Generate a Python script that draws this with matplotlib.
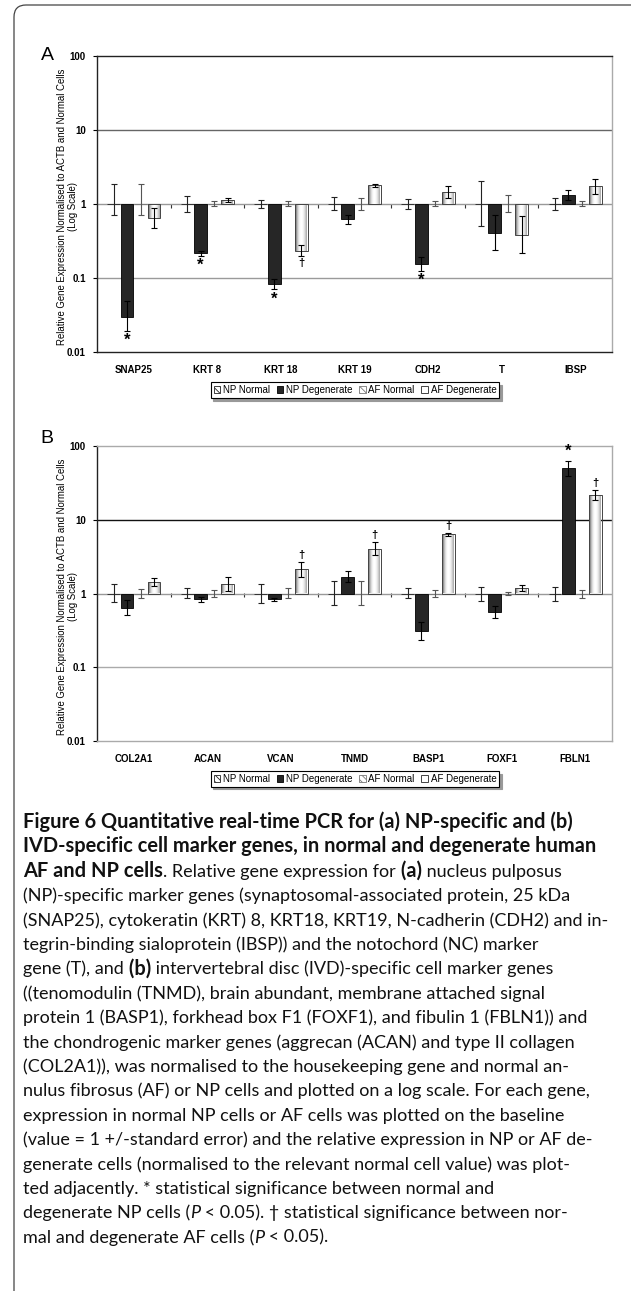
import numpy as np
import matplotlib
matplotlib.use('Agg')
import matplotlib.pyplot as plt
from matplotlib.patches import FancyBboxPatch
from matplotlib.transforms import IdentityTransform
from matplotlib.ticker import FixedLocator, FixedFormatter, NullLocator

plt.rcParams['font.family'] = ['Liberation Sans', 'DejaVu Sans']
plt.rcParams['hatch.linewidth'] = 0.6

# ---- data ----
series_names = ['NP Normal', 'NP Degenerate', 'AF Normal', 'AF Degenerate']
ytick_vals = [0.01, 0.1, 1, 10, 100]
ytick_labels = ['0.01', '0.1', '1', '10', '100']

genes_a = ['SNAP25', 'KRT 8', 'KRT 18', 'KRT 19', 'CDH2', 'T', 'IBSP']
np_norm_lo_a = [0.72, 0.78, 0.88, 0.82, 0.86, 0.50, 0.84]
np_norm_hi_a = [1.86, 1.30, 1.12, 1.24, 1.17, 2.05, 1.21]
np_deg_a = [0.030, 0.216, 0.082, 0.626, 0.155, 0.41, 1.33]
np_deg_lo_a = [0.019, 0.199, 0.070, 0.54, 0.124, 0.24, 1.13]
np_deg_hi_a = [0.049, 0.235, 0.096, 0.72, 0.19, 0.70, 1.55]
af_norm_lo_a = [0.72, 0.93, 0.93, 0.82, 0.94, 0.77, 0.93]
af_norm_hi_a = [1.86, 1.10, 1.10, 1.22, 1.09, 1.32, 1.10]
af_deg_a = [0.645, 1.145, 0.235, 1.79, 1.44, 0.376, 1.76]
af_deg_lo_a = [0.47, 1.05, 0.199, 1.72, 1.19, 0.216, 1.37]
af_deg_hi_a = [0.88, 1.20, 0.277, 1.87, 1.74, 0.68, 2.16]
sig_a = [(0, 'np', '*'), (1, 'np', '*'), (2, 'np', '*'), (4, 'np', '*'), (2, 'af', '\u2020')]

genes_b = ['COL2A1', 'ACAN', 'VCAN', 'TNMD', 'BASP1', 'FOXF1', 'FBLN1']
np_norm_lo_b = [0.76, 0.86, 0.75, 0.69, 0.86, 0.80, 0.80]
np_norm_hi_b = [1.34, 1.18, 1.35, 1.49, 1.18, 1.24, 1.24]
np_deg_b = [0.645, 0.83, 0.83, 1.68, 0.31, 0.557, 50]
np_deg_lo_b = [0.51, 0.76, 0.78, 1.41, 0.237, 0.47, 39]
np_deg_hi_b = [0.81, 0.90, 0.88, 2.01, 0.41, 0.67, 63]
af_norm_lo_b = [0.88, 0.90, 0.86, 0.69, 0.90, 0.96, 0.88]
af_norm_hi_b = [1.16, 1.12, 1.18, 1.49, 1.12, 1.04, 1.13]
af_deg_b = [1.43, 1.34, 2.16, 4.04, 6.32, 1.18, 21.8]
af_deg_lo_b = [1.26, 1.09, 1.68, 3.3, 5.95, 1.09, 18.6]
af_deg_hi_b = [1.61, 1.68, 2.66, 5.0, 6.7, 1.31, 25.4]
sig_b = [(2, 'af', '\u2020'), (3, 'af', '\u2020'), (4, 'af', '\u2020'),
         (6, 'np', '*'), (6, 'af', '\u2020')]

ylabel_lines = ['Relative Gene Expression Normalised to ACTB and Normal Cells', '(Log Scale)']

caption_lines = [
    [('Figure 6 Quantitative real-time PCR for (a) NP-specific and (b)', 'b')],
    [('IVD-specific cell marker genes, in normal and degenerate human', 'b')],
    [('AF and NP cells', 'b'), ('. Relative gene expression for', 'r'), (' (a)', 'b'),
     (' nucleus pulposus', 'r')],
    [('(NP)-specific marker genes (synaptosomal-associated protein, 25 kDa', 'r')],
    [('(SNAP25), cytokeratin (KRT) 8, KRT18, KRT19, N-cadherin (CDH2) and in-', 'r')],
    [('tegrin-binding sialoprotein (IBSP)) and the notochord (NC) marker', 'r')],
    [('gene (T), and', 'r'), (' (b)', 'b'), (' intervertebral disc (IVD)-specific cell marker genes', 'r')],
    [('((tenomodulin (TNMD), brain abundant, membrane attached signal', 'r')],
    [('protein 1 (BASP1), forkhead box F1 (FOXF1), and fibulin 1 (FBLN1)) and', 'r')],
    [('the chondrogenic marker genes (aggrecan (ACAN) and type II collagen', 'r')],
    [('(COL2A1)), was normalised to the housekeeping gene and normal an-', 'r')],
    [('nulus fibrosus (AF) or NP cells and plotted on a log scale. For each gene,', 'r')],
    [('expression in normal NP cells or AF cells was plotted on the baseline', 'r')],
    [('(value = 1 +/-standard error) and the relative expression in NP or AF de-', 'r')],
    [('generate cells (normalised to the relevant normal cell value) was plot-', 'r')],
    [('ted adjacently. * statistical significance between normal and', 'r')],
    [('degenerate NP cells (', 'r'), ('P', 'i'),
     (' < 0.05). \u2020 statistical significance between nor-', 'r')],
    [('mal and degenerate AF cells (', 'r'), ('P', 'i'), (' < 0.05).', 'r')],
]

W, H = 631, 1291
fig = plt.figure(figsize=(W / 100, H / 100), dpi=100)


def fx(px):
    return px / W


def fy(py):
    return 1 - py / H


axA = fig.add_axes([fx(97), fy(352), 515 / W, 296 / H])
axB = fig.add_axes([fx(97), fy(741), 515 / W, 295 / H])

grad = np.array([[0.5, 0.72, 0.86, 0.95, 1.0, 1.0, 0.97, 0.9, 0.8, 0.68, 0.55]])


def draw_panel(ax, genes, nn_lo, nn_hi, nd, nd_lo, nd_hi, an_lo, an_hi, ad, ad_lo, ad_hi,
               sig, line_cols, top_col, bottom_col):
    ax.set_yscale('log')
    x = np.arange(len(genes))
    ones = np.ones(len(genes))
    step, w = 0.183, 0.175
    offs = np.array([-1.5, -0.5, 0.5, 1.5]) * step
    nd, ad = np.array(nd), np.array(ad)

    ax.bar(x + offs[0], ones - 1, bottom=1, width=w, facecolor='white', edgecolor='#222',
           hatch='\\\\\\\\\\', lw=0.6, label=series_names[0])
    ax.bar(x + offs[1], nd - 1, bottom=1, width=w, facecolor='#262626', edgecolor='black',
           lw=0.6, label=series_names[1], zorder=2)
    ax.bar(x + offs[2], ones - 1, bottom=1, width=w, facecolor='white', edgecolor='#777',
           hatch='\\\\\\\\\\', lw=0.6, label=series_names[2])
    bars_ad = ax.bar(x + offs[3], ad - 1, bottom=1, width=w, facecolor='none', edgecolor='#444',
                     lw=0.7, label=series_names[3], zorder=2.2)
    for p in bars_ad:
        y0, y1 = p.get_y(), p.get_y() + p.get_height()
        ax.imshow(grad, cmap='gray', vmin=0, vmax=1, aspect='auto', interpolation='bilinear',
                  extent=[p.get_x(), p.get_x() + p.get_width(), min(y0, y1), max(y0, y1)],
                  zorder=1.9)

    ekw = dict(fmt='none', elinewidth=0.8, capsize=2, capthick=0.8, zorder=3)
    ax.errorbar(x + offs[0], ones, yerr=[ones - np.array(nn_lo), np.array(nn_hi) - ones],
                ecolor='#222', **ekw)
    ax.errorbar(x + offs[1], nd, yerr=[nd - np.array(nd_lo), np.array(nd_hi) - nd],
                ecolor='black', **ekw)
    ax.errorbar(x + offs[2], ones, yerr=[ones - np.array(an_lo), np.array(an_hi) - ones],
                ecolor='#555', **ekw)
    ax.errorbar(x + offs[3], ad, yerr=[ad - np.array(ad_lo), np.array(ad_hi) - ad],
                ecolor='black', **ekw)

    for gi, ser, sym in sig:
        if ser == 'np':
            xv, val, lo, hi = x[gi] + offs[1], nd[gi], nd_lo[gi], nd_hi[gi]
        else:
            xv, val, lo, hi = x[gi] + offs[3], ad[gi], ad_lo[gi], ad_hi[gi]
        fs = 12 if sym == '*' else 8
        if val < 1:
            ax.text(xv, lo / 1.06, sym, ha='center', va='top', fontsize=fs, fontweight='bold')
        else:
            ax.text(xv, hi * 1.06, sym, ha='center', va='bottom', fontsize=fs, fontweight='bold')

    for v, c in zip(ytick_vals[1:-1], line_cols):
        ax.axhline(v, color=c, lw=1.0, zorder=0.5)

    ax.set_xlim(-0.5, len(genes) - 0.5)
    ax.set_ylim(ytick_vals[0], ytick_vals[-1])
    ax.yaxis.set_major_locator(FixedLocator(ytick_vals))
    ax.yaxis.set_major_formatter(FixedFormatter(ytick_labels))
    ax.yaxis.set_minor_locator(NullLocator())
    ax.tick_params(axis='y', direction='out', length=3, width=0.8, labelsize=7, pad=5)
    for t in ax.get_yticklabels():
        t.set_fontweight('bold')
    ax.set_xticks(x)
    ax.set_xticklabels(genes, fontsize=7, fontweight='bold')
    ax.tick_params(axis='x', length=0, pad=9)

    ax.spines['left'].set_color('#222')
    ax.spines['right'].set_color('#aaa')
    ax.spines['top'].set_color(top_col)
    ax.spines['bottom'].set_color(bottom_col)
    for s in ax.spines.values():
        s.set_linewidth(1.0)

    # category tick marks sitting on the baseline (value = 1)
    sec = ax.secondary_xaxis(0.5)
    sec.set_xticks(x[:-1] + 0.5)
    sec.tick_params(direction='in', length=3, width=0.8, color='#333',
                    labeltop=False, labelbottom=False)
    for s in sec.spines.values():
        s.set_visible(False)

    # y label as two rotated lines
    ax.text(-0.068, 0.49, ylabel_lines[0], transform=ax.transAxes, rotation=90,
            ha='center', va='center', fontsize=6.9)
    ax.text(-0.047, 0.49, ylabel_lines[1], transform=ax.transAxes, rotation=90,
            ha='center', va='center', fontsize=6.9)

    leg = ax.legend(loc='center', bbox_to_anchor=(0.501, -0.128), ncol=4, fontsize=7,
                    handlelength=0.7, handleheight=0.7, handletextpad=0.25, columnspacing=0.7,
                    borderpad=0.3, borderaxespad=0, fancybox=False, framealpha=1,
                    edgecolor='black', shadow={'color': '0.6', 'alpha': 1})
    leg.get_frame().set_linewidth(0.8)


draw_panel(axA, genes_a, np_norm_lo_a, np_norm_hi_a, np_deg_a, np_deg_lo_a, np_deg_hi_a,
           af_norm_lo_a, af_norm_hi_a, af_deg_a, af_deg_lo_a, af_deg_hi_a, sig_a,
           ['#9a9a9a', '#999999', '#666666'], '#222', '#222')
draw_panel(axB, genes_b, np_norm_lo_b, np_norm_hi_b, np_deg_b, np_deg_lo_b, np_deg_hi_b,
           af_norm_lo_b, af_norm_hi_b, af_deg_b, af_deg_lo_b, af_deg_hi_b, sig_b,
           ['#aaaaaa', '#999999', '#111111'], '#aaa', '#aaa')

fig.text(fx(47), fy(56), 'A', fontsize=14, ha='center', va='center')
fig.text(fx(47), fy(438), 'B', fontsize=14, ha='center', va='center')

# outer frame with rounded top-left corner
fig.add_artist(FancyBboxPatch((14, -20), W + 40, H - 5 + 20,
                              boxstyle='round,pad=0,rounding_size=12',
                              transform=IdentityTransform(), fc='none', ec='#444', lw=0.9))

# caption
cap_font = ['Lato', 'DejaVu Sans']
size_r, size_b = 13.0, 14.4
for i, segs in enumerate(caption_lines):
    yb = fy(828 + i * 24.4)
    prev = None
    for txt, st in segs:
        kw = dict(fontsize=size_b if st == 'b' else size_r,
                  fontweight='bold' if st == 'b' else 'normal',
                  fontstyle='italic' if st == 'i' else 'normal',
                  family=cap_font, va='baseline', ha='left', color='#111')
        if prev is None:
            prev = fig.text(fx(23), yb, txt, **kw)
        else:
            prev = axB.annotate(txt, xy=(1, yb), xycoords=(prev, 'figure fraction'),
                                annotation_clip=False, **kw)

fig.savefig('out.png', dpi=100)
